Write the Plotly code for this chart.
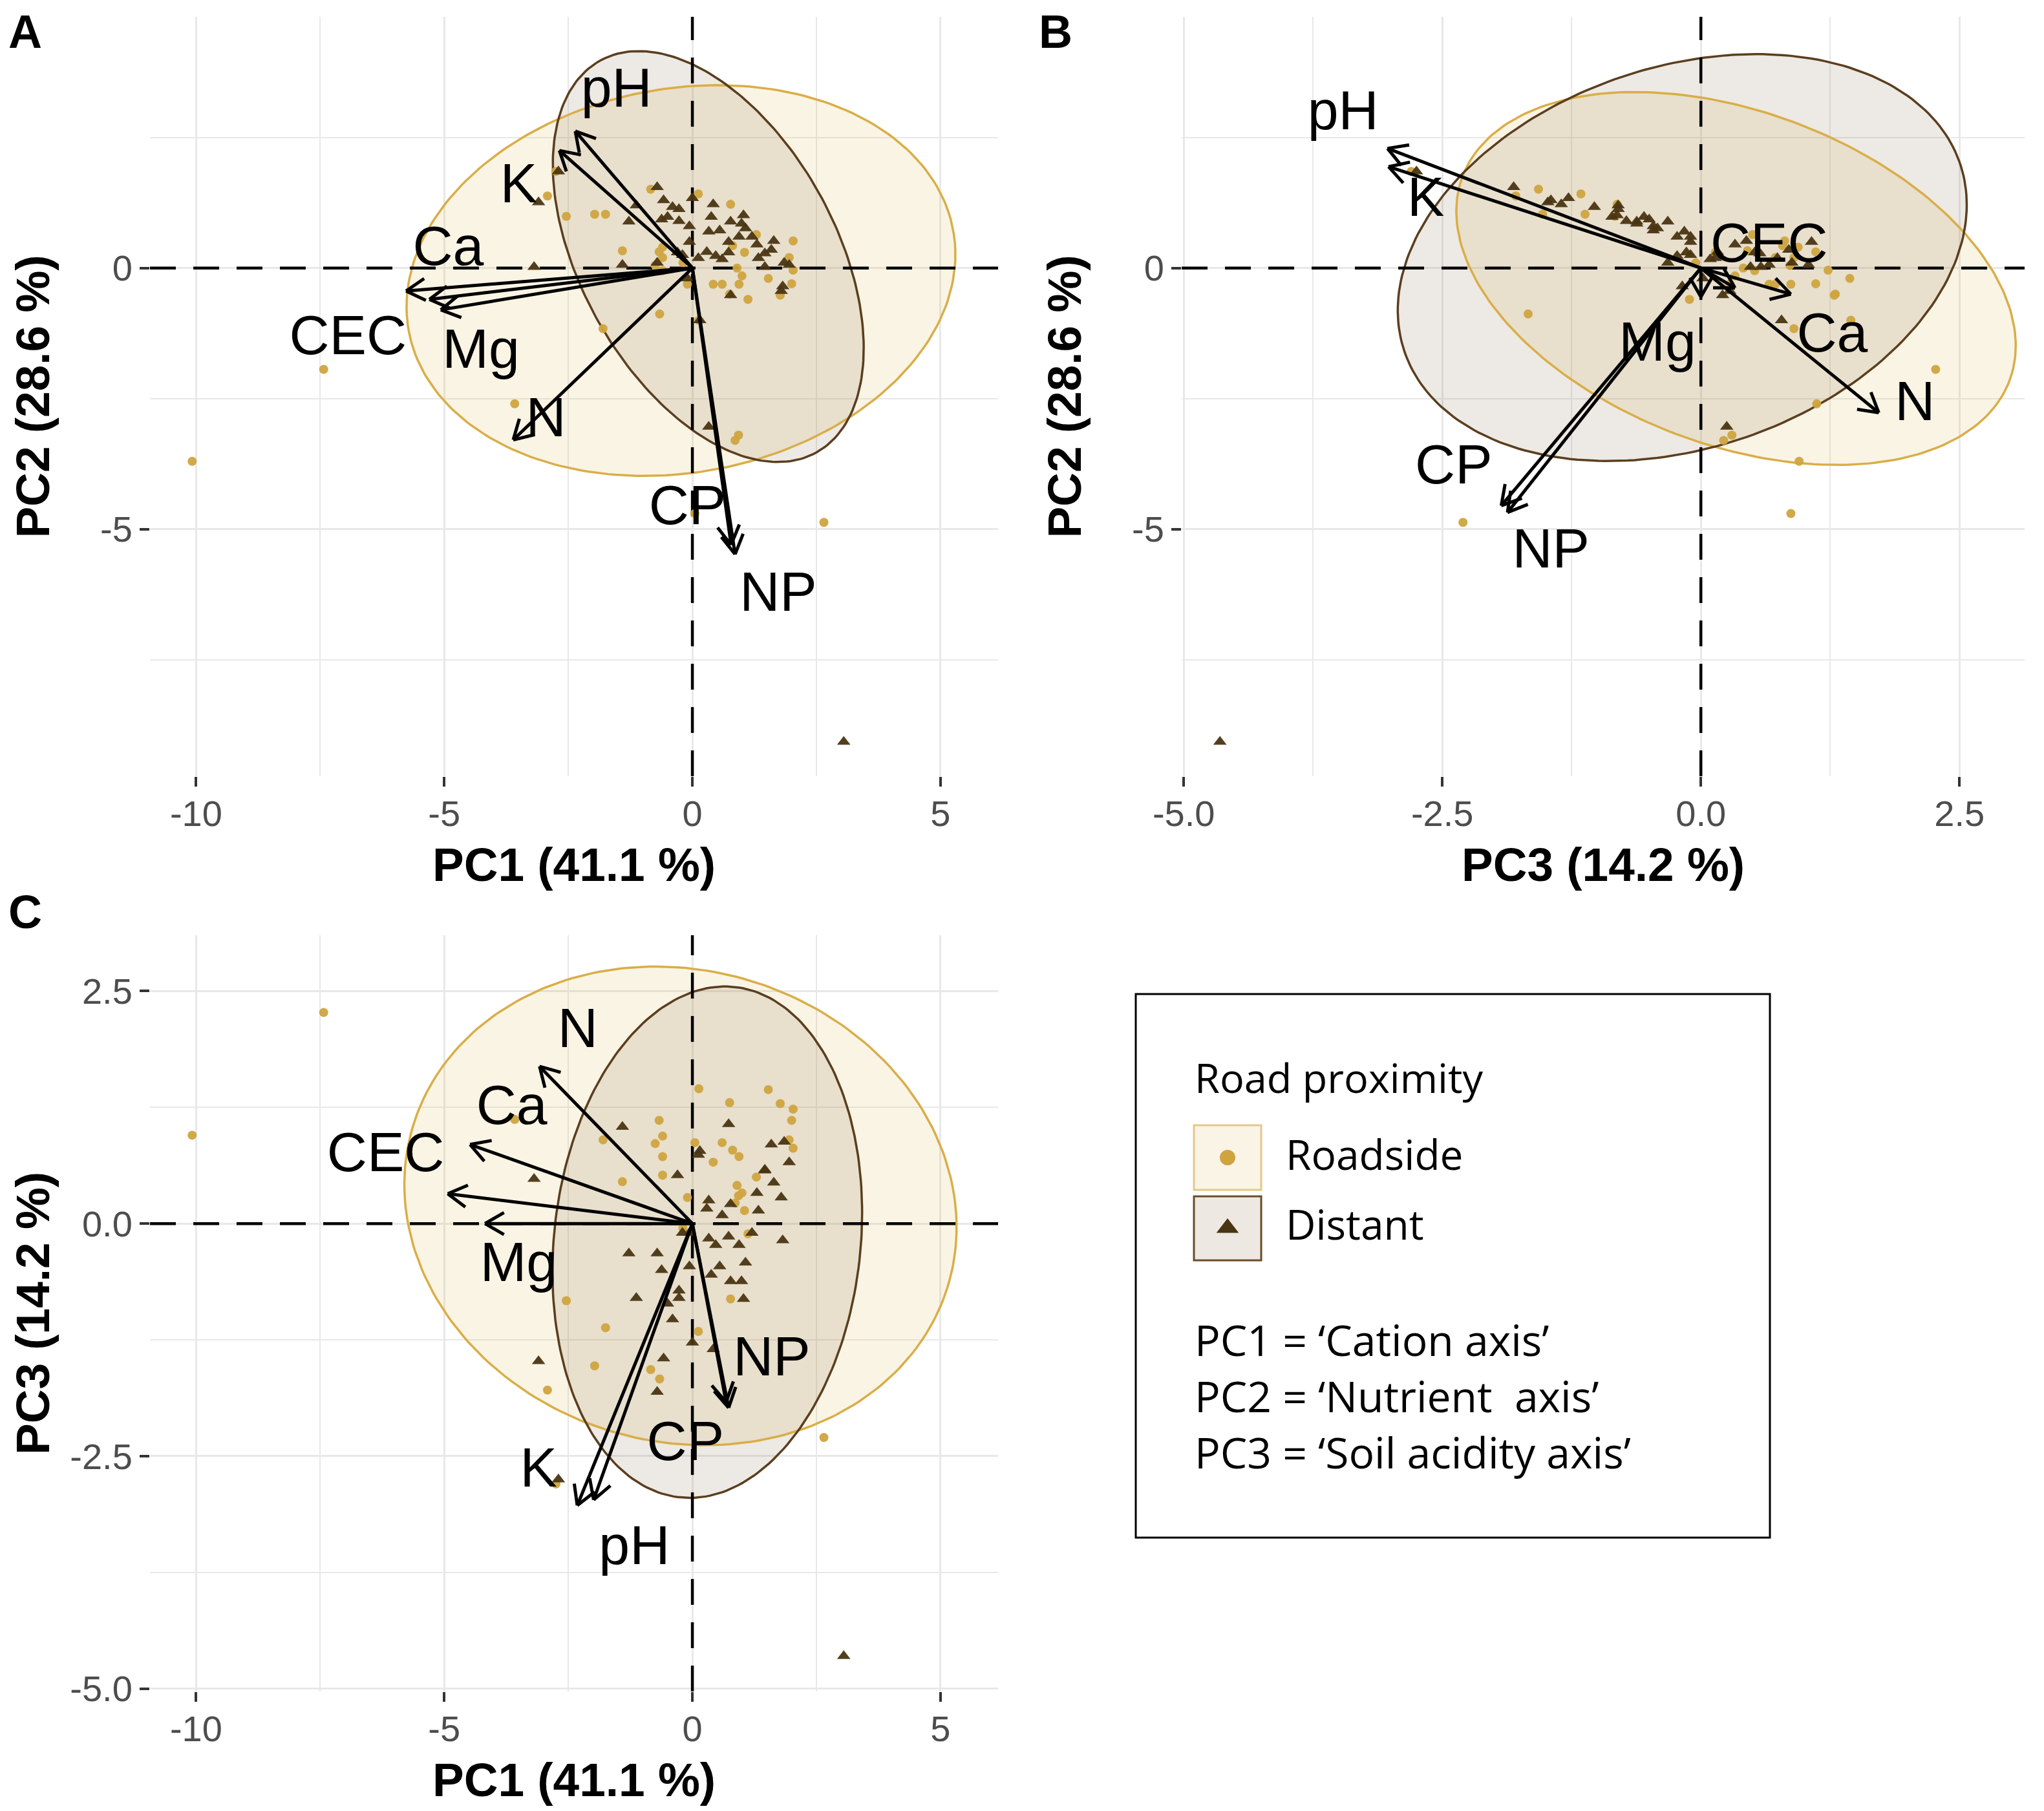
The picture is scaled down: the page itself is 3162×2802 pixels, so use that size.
import numpy as np
import plotly.graph_objects as go

# reference canvas size; the page body adds an 8 px margin, so the figure is drawn 8 px smaller on each side
W, H = 3162, 2802
OFF = 8
WF, HF = W - 2 * OFF, H - 2 * OFF


def fx(px):
    return (px - OFF) / WF


def fy(py):
    return 1 - (py - OFF) / HF


# ---------------- data: PCA scores ----------------
# Distant (triangles)
dist_pc1 = [-0.71, -0.58, -0.40, -0.27, 0.00, 0.42, -0.62, -1.28, -0.06, 0.33,
            0.55, 0.77, 1.03, 1.07, 0.94, 1.20, 1.30, 1.64, 1.59, 1.33,
            1.46, 1.85, 1.82, 0.77, 0.29, 0.47, 0.12, 0.60, -1.41, -3.19,
            -0.71, -0.06, 0.33, 3.05, -2.70, 0.15, 1.46, 1.95, 1.79, 0.73,
            -3.10, -1.13, -0.50, -0.30, 0.99, -0.20, -0.10, 0.73, -0.27, 0.38]
dist_pc2 = [1.55, 1.30, 1.17, 1.13, 1.34, 1.22, 0.93, 0.89, 0.80, 0.70,
            0.72, 0.89, 1.01, 0.76, 0.60, 0.60, 0.45, 0.52, 0.35, 0.19,
            0.02, 0.10, -0.35, -0.52, 0.31, 0.23, 0.19, 0.17, 0.06, 0.02,
            0.10, 0.50, -3.04, -9.07, 1.85, -1.00, 0.28, 0.06, -0.44, 0.50,
            1.26, 1.20, 0.98, 0.30, 0.85, 0.25, -0.20, 0.30, 0.90, 0.98]
dist_pc3 = [-1.81, -1.45, -1.03, -0.80, -1.28, -1.35, -0.50, -0.32, -0.46, -0.16,
            -0.46, -0.62, -0.81, -0.42, -0.23, -0.10, 0.33, 0.44, 0.85, 0.14,
            0.58, 0.88, -0.18, 0.21, 0.16, -0.23, 0.74, 0.09, 1.04, 0.48,
            -0.32, -0.10, 0.25, -4.65, -2.75, 0.78, 0.57, 0.66, 0.28, 1.07,
            -1.48, -0.80, -0.86, 0.52, -0.62, -0.10, 0.02, -0.14, -0.72, -0.55]

# Roadside (circles)
road_pc1 = [-10.08, -7.43, 2.65, -3.58, 0.93, 0.86, 0.05, -2.54, -1.97, -1.75,
            -1.41, -0.67, -0.84, 0.12, 0.77, 0.81, 1.29, 2.03, 2.00, 0.42,
            0.60, 0.94, 1.77, 2.03, -0.10, -2.92, -0.66, -1.80, 0.13, -0.75,
            -0.60, -0.60, -0.60, 0.75, 1.53, 1.95, 0.90, 1.00, 1.05, 1.12,
            -2.75, -0.19]
road_pc2 = [-3.70, -1.94, -4.87, -2.60, -3.20, -3.30, -4.70, 0.99, 1.03, 1.03,
            0.33, 0.31, 1.51, 1.42, 1.22, 0.43, 0.64, 0.52, -0.30, -0.31,
            -0.31, -0.31, -0.52, -0.04, -0.31, 1.38, -0.88, -1.16, -1.00, 0.05,
            0.20, -0.05, 0.40, -0.50, -0.20, 0.20, 0.00, -0.15, 0.30, -0.60,
            1.85, 0.10]
road_pc3 = [0.95, 2.27, -2.30, 1.12, 0.30, 0.22, 0.87, -0.83, -1.53, -1.12,
            0.45, 1.11, -1.57, -1.16, -0.81, 0.79, 0.50, 0.81, 1.11, 0.66,
            0.87, 0.72, 1.29, 1.23, 0.28, -1.79, -1.67, 0.90, 1.45, 0.86,
            0.72, 0.52, 0.94, 1.30, 1.44, 0.90, 0.41, 0.33, 0.14, -0.11,
            -2.80, -0.05]

# ---------------- data: variable loadings (arrow tips) and labels ----------------
var_names = ["pH", "K", "Ca", "CEC", "Mg", "N", "CP", "NP"]

arrowA_x = [-2.36, -2.68, -5.30, -5.77, -5.07, -3.61, 0.78, 0.86]
arrowA_y = [2.62, 2.25, -0.60, -0.44, -0.80, -3.29, -5.30, -5.48]
labelA_x = [-1.53, -3.50, -4.92, -6.94, -4.26, -2.95, -0.10, 1.73]
labelA_y = [3.35, 1.52, 0.33, -1.38, -1.64, -2.96, -4.64, -6.29]

arrowB_x = [-3.03, -3.02, 0.87, 0.33, 0.00, 1.72, -1.93, -1.87]
arrowB_y = [2.29, 1.94, -0.50, -0.38, -0.55, -2.77, -4.55, -4.68]
labelB_x = [-3.46, -2.66, 1.27, 0.66, -0.42, 2.07, -2.39, -1.45]
labelB_y = [2.92, 1.26, -1.34, 0.39, -1.51, -2.65, -3.86, -5.47]

arrowC_x = [-1.99, -2.32, -4.48, -4.93, -4.18, -3.08, 0.68, 0.73]
arrowC_y = [-2.97, -3.03, 0.85, 0.32, 0.00, 1.69, -1.92, -1.98]
labelC_x = [-1.17, -3.10, -3.64, -6.18, -3.50, -2.31, -0.14, 1.60]
labelC_y = [-3.51, -2.68, 1.22, 0.71, -0.47, 2.05, -2.39, -1.48]

# ---------------- data: normal-probability ellipses ----------------
ell_panel = ["A", "A", "B", "B", "C", "C"]
ell_group = ["Roadside", "Distant", "Roadside", "Distant", "Roadside", "Distant"]
ell_cx = [-0.23, 0.32, 0.34, -0.18, -0.24, 0.30]
ell_cy = [-0.24, 0.22, -0.20, 0.20, 0.19, -0.20]
ell_a = [5.57, 4.34, 3.80, 4.01, 5.57, 3.18]
ell_b = [3.68, 2.54, 2.37, 2.58, 2.56, 2.68]
ell_angle = [9.2, 121.4, 116.0, 71.9, -3.0, 21.0]

axis_titles = {"A": ("PC1 (41.1 %)", "PC2 (28.6 %)"),
               "B": ("PC3 (14.2 %)", "PC2 (28.6 %)"),
               "C": ("PC1 (41.1 %)", "PC3 (14.2 %)")}
legend_title = "Road proximity"
legend_labels = ["Roadside", "Distant"]
legend_notes = ["PC1 = \u2018Cation axis\u2019", "PC2 = \u2018Nutrient  axis\u2019", "PC3 = \u2018Soil acidity axis\u2019"]

# ---------------- layout geometry (pixels in the reference canvas) ----------------
panels = {
    "A": dict(xr=[-10.93, 6.16], yr=[-9.73, 4.81], px=[232, 1544], py=[26, 1201], ax="", tag_xy=(12, 8)),
    "B": dict(xr=[-5.02, 3.13], yr=[-9.73, 4.81], px=[1828, 3132], py=[26, 1201], ax="2", tag_xy=(1606, 8)),
    "C": dict(xr=[-10.93, 6.16], yr=[-5.03, 3.10], px=[232, 1544], py=[1447, 2617], ax="3", tag_xy=(12, 1370)),
}
panel_x = {"A": (dist_pc1, road_pc1), "B": (dist_pc3, road_pc3), "C": (dist_pc1, road_pc1)}
panel_y = {"A": (dist_pc2, road_pc2), "B": (dist_pc2, road_pc2), "C": (dist_pc3, road_pc3)}
panel_arrows = {"A": (arrowA_x, arrowA_y, labelA_x, labelA_y),
                "B": (arrowB_x, arrowB_y, labelB_x, labelB_y),
                "C": (arrowC_x, arrowC_y, labelC_x, labelC_y)}

ROAD_COL = "#CFA43F"
DIST_COL = "#4A3512"
ROAD_FILL = "rgba(220,180,80,0.15)"
DIST_FILL = "rgba(125,100,65,0.14)"
ROAD_LINE = "#D9AE48"
DIST_LINE = "#5A3E1E"
FONT = "Liberation Sans, Arial, sans-serif"
LFONT = "Open Sans, Noto Sans, sans-serif"

fig = go.Figure()


def ellipse(cx, cy, a, b, ang, n=240):
    t = np.linspace(0, 2 * np.pi, n)
    th = np.radians(ang)
    x = cx + a * np.cos(t) * np.cos(th) - b * np.sin(t) * np.sin(th)
    y = cy + a * np.cos(t) * np.sin(th) + b * np.sin(t) * np.cos(th)
    return x, y


for key, p in panels.items():
    xa, ya = "x" + p["ax"], "y" + p["ax"]
    sx = (p["px"][1] - p["px"][0]) / (p["xr"][1] - p["xr"][0])
    sy = (p["py"][1] - p["py"][0]) / (p["yr"][1] - p["yr"][0])
    idx = [i for i, pn in enumerate(ell_panel) if pn == key]
    # fills
    for i in idx:
        ex, ey = ellipse(ell_cx[i], ell_cy[i], ell_a[i], ell_b[i], ell_angle[i])
        fig.add_trace(go.Scatter(x=ex, y=ey, mode="lines", fill="toself",
                                 fillcolor=ROAD_FILL if ell_group[i] == "Roadside" else DIST_FILL,
                                 line=dict(width=0), xaxis=xa, yaxis=ya, showlegend=False, hoverinfo="skip"))
    # outlines
    for i in idx:
        ex, ey = ellipse(ell_cx[i], ell_cy[i], ell_a[i], ell_b[i], ell_angle[i])
        fig.add_trace(go.Scatter(x=ex, y=ey, mode="lines",
                                 line=dict(width=3.5, color=ROAD_LINE if ell_group[i] == "Roadside" else DIST_LINE),
                                 xaxis=xa, yaxis=ya, showlegend=False, hoverinfo="skip"))
    # dashed reference lines at zero
    fig.add_trace(go.Scatter(x=[p["xr"][0], p["xr"][1], None, 0, 0], y=[0, 0, None, p["yr"][0], p["yr"][1]],
                             mode="lines", line=dict(color="black", width=4.5, dash="40px,27px"),
                             xaxis=xa, yaxis=ya, showlegend=False, hoverinfo="skip"))
    # points
    dx, rx = panel_x[key]
    dy, ry = panel_y[key]
    fig.add_trace(go.Scatter(x=rx, y=ry, mode="markers", name="Roadside",
                             marker=dict(symbol="circle", size=14, color=ROAD_COL, opacity=0.95, line=dict(width=0)),
                             xaxis=xa, yaxis=ya, showlegend=False))
    fig.add_trace(go.Scatter(x=dx, y=dy, mode="markers", name="Distant",
                             marker=dict(symbol="triangle-up", size=18, color=DIST_COL, opacity=0.95, line=dict(width=0)),
                             xaxis=xa, yaxis=ya, showlegend=False))
    # arrows (open heads, 30 degrees)
    axx, ayy, lx, ly = panel_arrows[key]
    X, Y = [], []
    L = 34.0
    for tx, ty in zip(axx, ayy):
        X += [0, tx, None]
        Y += [0, ty, None]
        vx, vy = tx * sx, ty * sy
        nrm = np.hypot(vx, vy)
        ux, uy = vx / nrm, vy / nrm
        for s in (1, -1):
            a = np.radians(30) * s
            wx = ux * np.cos(a) - uy * np.sin(a)
            wy = ux * np.sin(a) + uy * np.cos(a)
            X += [tx - L * wx / sx, tx, None]
            Y += [ty - L * wy / sy, ty, None]
    fig.add_trace(go.Scatter(x=X, y=Y, mode="lines", line=dict(color="black", width=5),
                             xaxis=xa, yaxis=ya, showlegend=False, hoverinfo="skip"))
    fig.add_trace(go.Scatter(x=lx, y=ly, mode="text", text=var_names, textposition="middle center",
                             textfont=dict(family=FONT, size=86, color="black"), cliponaxis=False,
                             xaxis=xa, yaxis=ya, showlegend=False, hoverinfo="skip"))

# ---------------- axes ----------------
def fmt(v, dec):
    return f"{v:.{dec}f}"


axis_ticks = {
    "A": dict(xt=[-10, -5, 0, 5], xd=0, xm=[-7.5, -2.5, 2.5], yt=[-5, 0], yd=0, ym=[-7.5, -2.5, 2.5]),
    "B": dict(xt=[-5, -2.5, 0, 2.5], xd=1, xm=[-3.75, -1.25, 1.25], yt=[-5, 0], yd=0, ym=[-7.5, -2.5, 2.5]),
    "C": dict(xt=[-10, -5, 0, 5], xd=0, xm=[-7.5, -2.5, 2.5], yt=[-5, -2.5, 0, 2.5], yd=1, ym=[-3.75, -1.25, 1.25]),
}
GRID = "#E8E8E8"
common = dict(showline=False, zeroline=False, showgrid=True, gridcolor=GRID, gridwidth=3, automargin=False,
              ticks="outside", ticklen=15, tickwidth=4, tickcolor="#333333",
              tickfont=dict(family=FONT, size=56, color="#4D4D4D"), fixedrange=True)
for key, p in panels.items():
    t = axis_ticks[key]
    xdom = [fx(p["px"][0]), fx(p["px"][1])]
    ydom = [fy(p["py"][1]), fy(p["py"][0])]
    xaxis = dict(common, domain=xdom, range=p["xr"], tickmode="array", tickvals=t["xt"],
                 ticktext=[fmt(v, t["xd"]) for v in t["xt"]], ticklabelstandoff=-6,
                 anchor="y" + p["ax"],
                 minor=dict(tickmode="array", tickvals=t["xm"], showgrid=True, gridcolor=GRID, gridwidth=2, ticks=""))
    yaxis = dict(common, domain=ydom, range=p["yr"], tickmode="array", tickvals=t["yt"],
                 ticktext=[fmt(v, t["yd"]) for v in t["yt"]],
                 anchor="x" + p["ax"],
                 minor=dict(tickmode="array", tickvals=t["ym"], showgrid=True, gridcolor=GRID, gridwidth=2, ticks=""))
    fig.update_layout(**{"xaxis" + p["ax"]: xaxis, "yaxis" + p["ax"]: yaxis})

annotations = []
shapes = []
for key, p in panels.items():
    xt, yt = axis_titles[key]
    cx = (p["px"][0] + p["px"][1]) / 2
    cy = (p["py"][0] + p["py"][1]) / 2
    annotations.append(dict(text=f"<b>{xt}</b>", x=fx(cx), y=fy(p["py"][1] + 136), xref="paper", yref="paper",
                            showarrow=False, xanchor="center", yanchor="middle",
                            font=dict(family=FONT, size=73, color="black")))
    annotations.append(dict(text=f"<b>{yt}</b>", x=fx(p["px"][0] - 182), y=fy(cy), xref="paper", yref="paper",
                            showarrow=False, xanchor="center", yanchor="middle", textangle=-90,
                            font=dict(family=FONT, size=73, color="black")))
    annotations.append(dict(text=f"<b>{key}</b>", x=fx(p["tag_xy"][0]), y=fy(p["tag_xy"][1]), xref="paper", yref="paper",
                            showarrow=False, xanchor="left", yanchor="top", borderpad=0,
                            font=dict(family=FONT, size=72, color="black")))

# ---------------- legend box ----------------
box = (1757, 1538, 2738, 2379)
shapes.append(dict(type="rect", xref="paper", yref="paper", x0=fx(box[0]), x1=fx(box[2]),
                   y0=fy(box[3]), y1=fy(box[1]), line=dict(color="black", width=3), fillcolor="white", layer="below"))
keys = [(1847, 1741, 1951, 1841, "rgb(250,244,230)", "#E3C88A"),
        (1847, 1851, 1951, 1950, "rgb(237,233,226)", "#6B4C2A")]
for (x0, y0, x1, y1, fc, lc) in keys:
    shapes.append(dict(type="rect", xref="paper", yref="paper", x0=fx(x0), x1=fx(x1),
                       y0=fy(y1), y1=fy(y0), line=dict(color=lc, width=3), fillcolor=fc, layer="below"))

fig.update_layout(xaxis4=dict(domain=[fx(box[0]), fx(box[2])], range=[box[0], box[2]], visible=False,
                              fixedrange=True, anchor="y4", automargin=False),
                  yaxis4=dict(domain=[fy(box[3]), fy(box[1])], range=[box[3], box[1]], visible=False,
                              fixedrange=True, anchor="x4", automargin=False))
fig.add_trace(go.Scatter(x=[1899], y=[1791], mode="markers", marker=dict(symbol="circle", size=24, color=ROAD_COL),
                         xaxis="x4", yaxis="y4", showlegend=False, hoverinfo="skip"))
fig.add_trace(go.Scatter(x=[1899], y=[1900], mode="markers", marker=dict(symbol="triangle-up", size=30, color=DIST_COL),
                         xaxis="x4", yaxis="y4", showlegend=False, hoverinfo="skip"))

leg_texts = [(legend_title, 1846, 1666, 63),
             (legend_labels[0], 1987, 1785, 64),
             (legend_labels[1], 1987, 1893, 64),
             (legend_notes[0], 1846, 2072, 66),
             (legend_notes[1], 1846, 2159, 66),
             (legend_notes[2], 1846, 2246, 66)]
for txt, x, y, fs in leg_texts:
    annotations.append(dict(text=txt.replace("  ", "&nbsp; "), x=fx(x), y=fy(y), xref="paper", yref="paper",
                            showarrow=False, xanchor="left", yanchor="middle",
                            font=dict(family=LFONT, size=fs, color="black")))

fig.update_layout(width=WF, height=HF, margin=dict(l=0, r=0, t=0, b=0, autoexpand=False),
                  paper_bgcolor="white", plot_bgcolor="white",
                  annotations=annotations, shapes=shapes, showlegend=False)

fig.write_html("out.html")
